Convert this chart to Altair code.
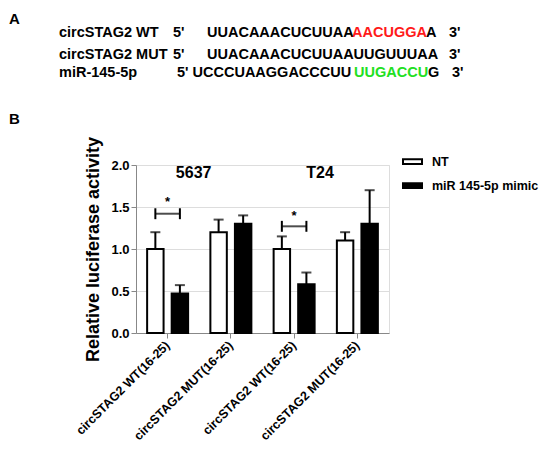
import altair as alt
import pandas as pd

# ---------------- data ----------------
group_labels = ["circSTAG2 WT(16-25)", "circSTAG2 MUT(16-25)",
                "circSTAG2 WT(16-25)", "circSTAG2 MUT(16-25)"]
cell_lines = ["5637", "T24"]
series = ["NT", "miR 145-5p mimic"]
nt_mean = [1.00, 1.20, 1.00, 1.10]
nt_err = [0.20, 0.15, 0.15, 0.10]
mimic_mean = [0.47, 1.30, 0.58, 1.30]
mimic_err = [0.10, 0.10, 0.14, 0.40]
sig_groups = [0, 2]
sig_bracket_y = [1.42, 1.27]
sig_star_y = [1.60, 1.43]
cell_label_groups = [0, 2]
cell_label_y = [1.91, 1.91]

wt_seq = ["UUACAAACUCUUAA", "AACUGGA", "A"]
mut_seq = "UUACAAACUCUUAAUUGUUUAA"
mir_seq = ["UCCCUAAGGACCCUU", "UUGACCU", "G"]

rows = []
for i in range(4):
    rows.append({"gi": i, "series": series[0], "mean": nt_mean[i],
                 "upper": nt_mean[i] + nt_err[i]})
    rows.append({"gi": i, "series": series[1], "mean": mimic_mean[i],
                 "upper": mimic_mean[i] + mimic_err[i]})
df = pd.DataFrame(rows)

sig_rows = []
for g, yb, ys in zip(sig_groups, sig_bracket_y, sig_star_y):
    for s in series:
        sig_rows.append({"gi": g, "series": s, "yb": yb, "ys": ys})
sig_df = pd.DataFrame(sig_rows)
sig_one = pd.DataFrame({"gi": sig_groups, "yb": sig_bracket_y, "ys": sig_star_y})

cell_df = pd.DataFrame({"gi": cell_label_groups, "y": cell_label_y, "t": cell_lines})

FONT = "Liberation Sans"

label_expr = "[" + ",".join("'%s'" % g for g in group_labels) + "][datum.value]"

x_enc = alt.X("gi:O",
              scale=alt.Scale(domain=[0, 1, 2, 3], paddingInner=0.352, paddingOuter=0.176),
              axis=alt.Axis(title=None, labelExpr=label_expr, labelAngle=-45,
                            labelAlign="right", labelBaseline="middle",
                            labelFont=FONT, labelFontWeight="bold", labelColor="black",
                            labelFontSize=12.5, labelPadding=5))
xo_enc = alt.XOffset("series:N", sort=series,
                     scale=alt.Scale(domain=series, paddingInner=0.33, paddingOuter=0))
y_scale = alt.Scale(domain=[0, 2])

bars = alt.Chart(df).mark_bar(stroke="black", strokeWidth=2).encode(
    x=x_enc, xOffset=xo_enc,
    y=alt.Y("mean:Q", scale=y_scale,
            axis=alt.Axis(title="Relative luciferase activity", values=[0, 0.5, 1, 1.5, 2],
                          format=".1f", titleFontSize=18, titleFontWeight="bold",
                          titleFont=FONT, titlePadding=8, labelFontSize=13,
                          labelFont=FONT, labelFontWeight="bold", labelColor="black",
                          labelPadding=2)),
    fill=alt.Fill("series:N", scale=alt.Scale(domain=series, range=["white", "black"]),
                  legend=alt.Legend(title=None, orient="none", legendX=266, legendY=-14,
                                    symbolType="M-1,-0.25H1V0.25H-1Z", symbolSize=361,
                                    symbolStrokeColor="black", symbolStrokeWidth=2,
                                    labelFont=FONT, labelFontSize=12.5, labelFontWeight="bold",
                                    labelColor="black", labelOffset=9, rowPadding=7,
                                    padding=0)),
)

err_line = alt.Chart(df).mark_rule(color="black", strokeWidth=2).encode(
    x=x_enc, xOffset=xo_enc, y=alt.Y("mean:Q", scale=y_scale), y2="upper:Q")
err_cap = alt.Chart(df).mark_tick(color="black", thickness=2, size=10).encode(
    x=x_enc, xOffset=xo_enc, y=alt.Y("upper:Q", scale=y_scale))

br_caps = alt.Chart(sig_df).mark_rule(color="black", strokeWidth=2).encode(
    x=x_enc, xOffset=xo_enc,
    y=alt.Y("lo:Q", scale=y_scale), y2="hi:Q").transform_calculate(
    lo="datum.yb - 0.065", hi="datum.yb + 0.065")
br_line = alt.Chart(sig_one).mark_tick(color="black", thickness=2, size=24).encode(
    x=x_enc, y=alt.Y("yb:Q", scale=y_scale))
stars = alt.Chart(sig_one).mark_text(text="*", font=FONT, fontSize=13, fontWeight="bold",
                                     color="black", baseline="middle", dy=3).encode(
    x=x_enc, y=alt.Y("ys:Q", scale=y_scale))
cells = alt.Chart(cell_df).mark_text(font=FONT, fontSize=16, fontWeight="bold",
                                     color="black", baseline="middle", dx=26).encode(
    x=x_enc, y=alt.Y("y:Q", scale=y_scale), text="t:N")


def txt(s, x, y, color="black", size=14.5, weight="bold", align="left"):
    return alt.Chart(alt.Data(values=[{}])).mark_text(
        text=s, font=FONT, fontSize=size, fontWeight=weight, color=color,
        align=align, baseline="middle").encode(x=alt.value(x), y=alt.value(y))


RED = "#ff1a1a"
GREEN = "#22e022"
annot = [
    txt("A", -127, -146, size=15),
    txt("B", -127, -46, size=15),
    txt("circSTAG2 WT", -77, -132),
    txt("5'", 37, -132),
    txt(wt_seq[0], 71, -132),
    txt(wt_seq[1], 216, -132, color=RED),
    txt(wt_seq[2], 290, -132),
    txt("3'", 313, -132),
    txt("circSTAG2 MUT", -77, -110),
    txt("5'", 37, -110),
    txt(mut_seq, 71, -110),
    txt("3'", 313, -110),
    txt("miR-145-5p", -77, -92),
    txt("5' " + mir_seq[0], 41, -92),
    txt(mir_seq[1], 218, -92, color=GREEN),
    txt(mir_seq[2], 292, -92),
    txt("3'", 316, -92),
]

chart = alt.layer(bars, err_line, err_cap, br_caps, br_line, stars, cells, *annot).properties(
    width=253, height=168,
    autosize=alt.AutoSizeParams(type="none"),
    padding={"left": 128, "top": 157, "right": 153, "bottom": 112},
).configure_view(stroke=None).configure_axis(
    domainColor="black", domainWidth=2, tickColor="black", tickWidth=2, tickSize=5,
    grid=False, titleColor="black",
).configure(background="white")

chart.save("out.html", embed_options={"renderer": "svg", "actions": False})
